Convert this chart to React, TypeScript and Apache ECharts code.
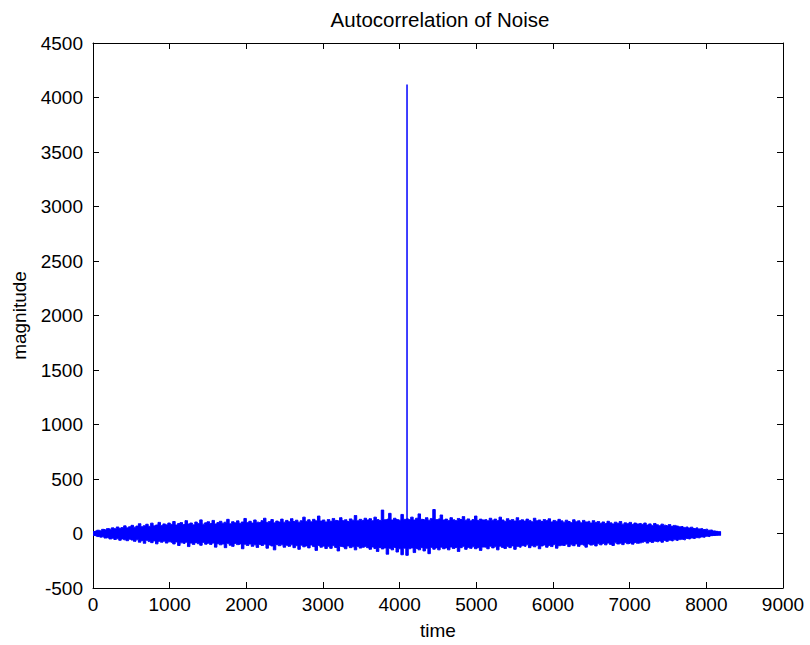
import React, { useEffect, useRef } from "react";
import * as echarts from "echarts";

// Noise band: sample spacing of 32 time units, upper / lower extent
const SAMPLE_STEP = 32;
const NOISE_UPPER = [
  18, 22, 30, 26, 38, 34, 45, 40, 52, 44, 60, 48, 55, 70, 52, 62,
  75, 58, 68, 90, 62, 72, 85, 66, 95, 70, 78, 102, 74, 88, 80, 96,
  84, 110, 78, 92, 100, 82, 118, 88, 96, 80, 105, 92, 125, 86, 98, 108,
  92, 120, 88, 100, 112, 95, 104, 130, 90, 108, 98, 116, 94, 106, 138, 100,
  112, 96, 124, 104, 100, 118, 140, 102, 110, 128, 98, 114, 106, 132, 104, 120,
  108, 136, 110, 122, 104, 118, 150, 112, 126, 108, 130, 116, 160, 114, 124, 106,
  128, 112, 138, 120, 116, 145, 118, 126, 110, 134, 122, 165, 116, 130, 120, 140,
  124, 136, 118, 150, 128, 120, 215, 126, 132, 185, 124, 140, 128, 122, 175, 130,
  135, 128, 150, 124, 140, 180, 130, 126, 145, 122, 138, 220, 128, 134, 170, 124,
  132, 120, 145, 126, 118, 138, 128, 155, 122, 134, 116, 128, 160, 120, 132, 124,
  128, 116, 140, 122, 132, 118, 150, 124, 112, 136, 120, 128, 114, 145, 118, 126,
  114, 132, 120, 108, 140, 116, 124, 110, 128, 118, 135, 106, 120, 112, 130, 116,
  104, 122, 110, 100, 126, 108, 116, 98, 120, 106, 112, 96, 118, 102, 110, 94,
  106, 92, 112, 98, 88, 104, 94, 110, 86, 98, 90, 102, 84, 96, 88, 92,
  84, 96, 78, 88, 74, 92, 80, 72, 86, 76, 70, 82, 66, 74, 68, 62,
  64, 56, 60, 50, 58, 46, 52, 42, 46, 36, 40, 30, 32, 24, 20, 14,
  10,
];
const NOISE_LOWER = [
  -18, -20, -28, -34, -30, -42, -38, -50, -44, -55, -48, -62, -50, -58, -66, -52,
  -60, -72, -58, -80, -66, -90, -62, -74, -84, -68, -95, -72, -80, -70, -88, -76,
  -82, -96, -78, -110, -86, -92, -80, -120, -88, -100, -84, -94, -108, -82, -98, -90,
  -100, -88, -125, -94, -104, -96, -130, -90, -108, -118, -92, -102, -96, -140, -98, -110,
  -96, -118, -104, -128, -100, -110, -98, -135, -106, -114, -150, -102, -112, -104, -126, -108,
  -118, -104, -130, -112, -145, -108, -122, -114, -132, -106, -120, -155, -110, -126, -116, -138,
  -120, -136, -112, -128, -160, -118, -124, -140, -114, -130, -122, -150, -118, -134, -126, -120,
  -130, -145, -124, -138, -165, -128, -142, -132, -190, -136, -150, -128, -170, -140, -195, -135,
  -200, -140, -132, -175, -138, -150, -130, -160, -136, -185, -128, -144, -132, -150, -126, -140,
  -132, -150, -124, -138, -128, -165, -130, -120, -145, -128, -136, -122, -140, -130, -155, -124,
  -126, -140, -118, -132, -122, -150, -116, -128, -138, -120, -130, -114, -145, -120, -126, -112,
  -118, -104, -130, -112, -122, -108, -140, -114, -106, -126, -110, -120, -102, -135, -112, -108,
  -110, -98, -120, -104, -112, -96, -118, -102, -108, -125, -96, -106, -100, -114, -94, -104,
  -92, -104, -88, -100, -110, -86, -96, -90, -102, -84, -94, -88, -98, -82, -90, -86,
  -80, -72, -88, -74, -82, -70, -76, -68, -80, -64, -72, -62, -68, -58, -64, -56,
  -52, -58, -46, -50, -42, -46, -38, -40, -32, -34, -26, -28, -20, -18, -14, -10,
  -8,
];
// Zero-lag peak
const PEAK_TIME = [4096, 4096];
const PEAK_VALUE = [0, 4120];

const X_MIN = 0, X_MAX = 9000, X_STEP = 1000;
const Y_MIN = -500, Y_MAX = 4500, Y_STEP = 500;

const TITLE = "Autocorrelation of Noise";
const X_NAME = "time";
const Y_NAME = "magnitude";

const BLUE = "#0000ff";
const FONT = "'Liberation Sans', Arial, sans-serif";
const FS = 19;
const TITLE_FS = 20.5;

export default function App() {
  const ref = useRef<HTMLDivElement>(null);
  useEffect(() => {
    if (!ref.current) return;
    const chart = echarts.init(ref.current, null, { renderer: "svg" });
    const upper = NOISE_UPPER.map((v, i) => [i * SAMPLE_STEP, v]);
    const lower = NOISE_LOWER.map((v, i) => [i * SAMPLE_STEP, v]);
    const peak = PEAK_TIME.map((t, i) => [t, PEAK_VALUE[i]]);
    const tick = { show: true, inside: true, length: 6, lineStyle: { color: "#000" } };
    const line = { show: true, onZero: false, lineStyle: { color: "#000", width: 1 } };
    const fmt = (v: number) => String(v);
    chart.setOption({
      animation: false,
      backgroundColor: "#fff",
      textStyle: { fontFamily: FONT },
      title: {
        text: TITLE,
        left: 435,
        textAlign: "center",
        top: 4,
        textStyle: { fontFamily: FONT, fontSize: TITLE_FS, fontWeight: "normal", color: "#000" },
      },
      grid: { left: 93, right: 27, top: 43, bottom: 56, containLabel: false },
      xAxis: [
        {
          type: "value", min: X_MIN, max: X_MAX, interval: X_STEP, position: "bottom",
          axisLine: line, axisTick: tick, splitLine: { show: false },
          axisLabel: { color: "#000", fontSize: FS, fontFamily: FONT, margin: 7, formatter: fmt },
          name: X_NAME, nameLocation: "middle", nameGap: 33,
          nameTextStyle: { color: "#000", fontSize: FS, fontFamily: FONT },
        },
        {
          type: "value", min: X_MIN, max: X_MAX, interval: X_STEP, position: "top",
          axisLine: line, axisTick: tick, axisLabel: { show: false }, splitLine: { show: false },
        },
      ],
      yAxis: [
        {
          type: "value", min: Y_MIN, max: Y_MAX, interval: Y_STEP, position: "left",
          axisLine: line, axisTick: tick, splitLine: { show: false },
          axisLabel: { color: "#000", fontSize: FS, fontFamily: FONT, margin: 10, formatter: fmt },
          name: Y_NAME, nameLocation: "middle", nameGap: 64,
          nameTextStyle: { color: "#000", fontSize: FS, fontFamily: FONT },
        },
        {
          type: "value", min: Y_MIN, max: Y_MAX, interval: Y_STEP, position: "right",
          axisLine: line, axisTick: tick, axisLabel: { show: false }, splitLine: { show: false },
        },
      ],
      series: [
        {
          type: "line", data: upper, symbol: "none", silent: true, step: "middle",
          lineStyle: { color: BLUE, width: 1 },
          areaStyle: { color: BLUE, opacity: 1, origin: -20 },
        },
        {
          type: "line", data: lower, symbol: "none", silent: true, step: "middle",
          lineStyle: { color: BLUE, width: 1 },
          areaStyle: { color: BLUE, opacity: 1, origin: 20 },
        },
        {
          type: "line", data: peak, symbol: "none", silent: true,
          lineStyle: { color: BLUE, width: 1.5 },
        },
      ],
    });
    return () => chart.dispose();
  }, []);
  return (
    <div
      ref={ref}
      style={{ position: "fixed", left: 0, top: 0, width: 810, height: 645, background: "#fff" }}
    />
  );
}
